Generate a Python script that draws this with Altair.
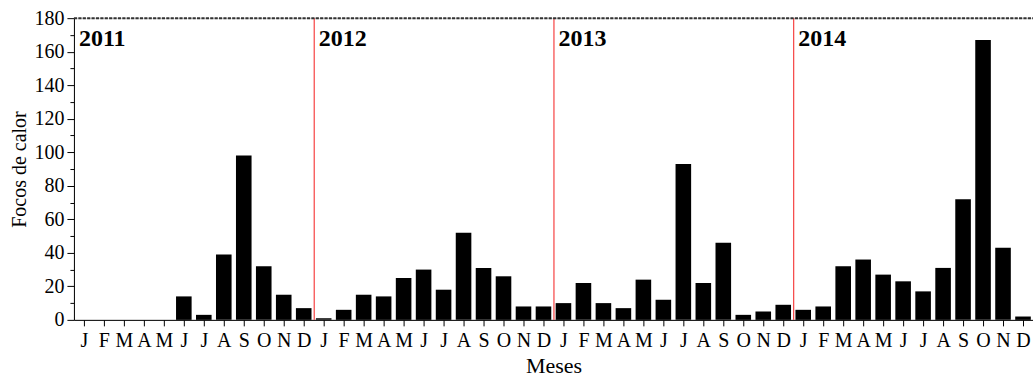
import altair as alt
import pandas as pd

# Monthly fire hotspot counts, 2011-2014
years = ["2011", "2012", "2013", "2014"]
month_letters = ["J", "F", "M", "A", "M", "J", "J", "A", "S", "O", "N", "D"]
focos_2011 = [0, 0, 0, 0, 0, 14, 3, 39, 98, 32, 15, 7]
focos_2012 = [1, 6, 15, 14, 25, 30, 18, 52, 31, 26, 8, 8]
focos_2013 = [10, 22, 10, 7, 24, 12, 93, 22, 46, 3, 5, 9]
focos_2014 = [6, 8, 32, 36, 27, 23, 17, 31, 72, 167, 43, 2]

series = [focos_2011, focos_2012, focos_2013, focos_2014]
rows = []
for y_i, vals in enumerate(series):
    for m_i, v in enumerate(vals):
        idx = y_i * 12 + m_i
        rows.append({"idx": idx, "lo": idx - 0.39, "hi": idx + 0.39,
                     "mes": month_letters[m_i], "ano": years[y_i], "focos": v})
df = pd.DataFrame(rows)

n = len(df)
years_df = pd.DataFrame({"ano": years,
                         "start": [12 * k - 0.5 for k in range(len(years))]})
sep_df = years_df.iloc[1:]

FONT = "Liberation Serif"
x_scale = alt.Scale(domain=[-0.5, n - 0.5], nice=False, zero=False)
y_scale = alt.Scale(domain=[0, 180], nice=False)

month_expr = "['J','F','M','A','M','J','J','A','S','O','N','D'][datum.value % 12]"

x_axis = alt.Axis(values=list(range(n)), labelExpr=month_expr, title="Meses",
                  grid=False, tickSize=6, tickColor="black", domainColor="black",
                  labelPadding=5, labelFont=FONT, labelFontSize=20,
                  labelColor="black", labelFlush=False, labelOverlap=False,
                  labelBound=False,
                  titleFont=FONT, titleFontSize=22, titleFontWeight="normal",
                  titleColor="black", titlePadding=5)

# major ticks every 20 (labelled), minor ticks every 10
y_axis = alt.Axis(values=list(range(0, 181, 10)),
                  labelExpr="datum.value % 20 == 0 ? datum.label : ''",
                  tickSize={"condition": {"test": "datum.value % 20 == 0", "value": 7},
                            "value": 4},
                  title="Focos de calor",
                  grid=False, tickColor="black", domainColor="black",
                  labelPadding=3, labelFont=FONT, labelFontSize=20,
                  labelColor="black", titleFont=FONT, titleFontSize=20,
                  titleFontWeight="normal", titleColor="black", titlePadding=4)

bars = alt.Chart(df).mark_bar(color="black").encode(
    x=alt.X("lo:Q", scale=x_scale, axis=x_axis),
    x2="hi:Q",
    y=alt.Y("focos:Q", scale=y_scale, axis=y_axis),
    y2=alt.datum(0),
)

separators = alt.Chart(sep_df).mark_rule(color="#f41c1c", strokeWidth=1,
                                         xOffset=0.5).encode(
    x=alt.X("start:Q", scale=x_scale, axis=x_axis),
)

top_line = alt.Chart(years_df.iloc[:1]).mark_rule(color="#333", strokeWidth=2,
                                                  strokeDash=[3.2, 1.2]).encode(
    y=alt.Y("max_y:Q", scale=y_scale, axis=y_axis),
    x=alt.value(0),
    x2=alt.value(960),
).transform_calculate(max_y="180")

year_text = alt.Chart(years_df).mark_text(
    align="left", baseline="alphabetic", dx=5, font=FONT, fontSize=24,
    fontWeight="bold", color="black",
).encode(
    x=alt.X("start:Q", scale=x_scale, axis=x_axis),
    y=alt.value(28),
    text="ano:N",
)

chart = alt.layer(bars, separators, top_line, year_text).properties(
    width=960, height=302,
    autosize=alt.AutoSizeParams(type="none"),
    padding={"left": 74, "top": 18, "right": 0, "bottom": 57},
).configure_view(stroke=None).configure(background="white")

chart.save("out.html", embed_options={"renderer": "svg", "actions": False})
